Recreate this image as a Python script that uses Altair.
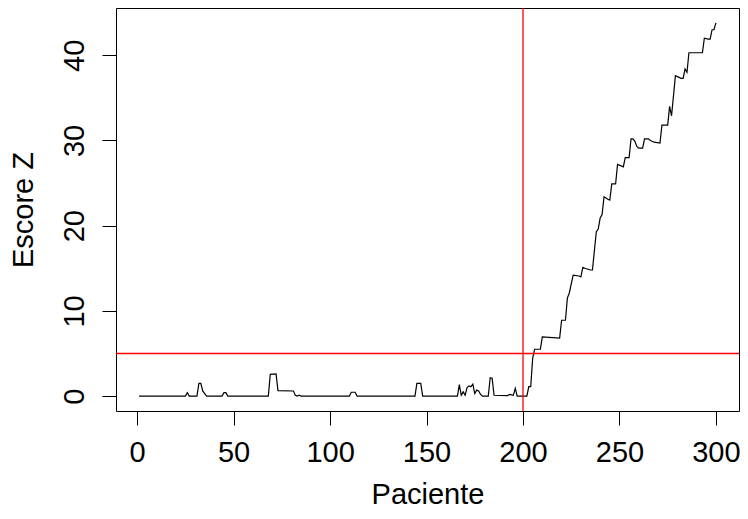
import altair as alt
import pandas as pd

# Vertices of the score line (patient, Z score)
paciente = [1, 25, 26, 27, 31, 32, 33, 34, 35, 36, 44, 45, 46, 47,
            68, 69, 72, 73, 81, 82, 83, 84, 85,
            110, 111, 113, 114, 144, 145, 147, 148,
            166, 167, 168, 169, 170, 171, 172, 173, 174, 175, 176, 177, 178, 179,
            182, 183, 184, 185, 192, 193, 194, 195, 196, 197,
            202, 203, 204, 205, 206, 209, 210, 219, 220, 222, 223, 224, 226,
            229, 230, 231, 232, 235, 236, 238, 239, 240, 241, 242, 244, 245, 246,
            248, 249, 252, 253, 255, 256, 257, 258, 259, 260, 262, 263, 265, 266,
            268, 271, 272, 275, 276, 277, 279, 280, 282, 283, 284, 285, 286,
            293, 294, 296, 297, 298, 299, 300]
escore = [0, 0, 0.4, 0, 0, 1.5, 1.5, 0.6, 0.3, 0, 0, 0.4, 0.4, 0,
          0, 2.55, 2.6, 0.65, 0.6, 0.1, 0, 0.1, 0,
          0, 0.45, 0.45, 0, 0, 1.5, 1.5, 0,
          0, 1.35, 0.1, 0.5, 0.1, 1.0, 1.2, 1.1, 1.4, 0.3, 0.7, 0.6, 0.2, 0,
          0, 2.15, 2.1, 0.1, 0.05, 0.2, 0.15, 0.1, 0.9, 0,
          0, 1.1, 1.1, 4.4, 5.5, 5.5, 6.95, 6.8, 8.9, 8.9, 11.5, 12.1, 14.2,
          14.1, 14.0, 15.1, 15.0, 14.8, 14.8, 19.3, 19.6, 20.9, 21.3, 23.4, 23.1, 23.0, 24.9,
          24.9, 27.2, 26.9, 28.0, 28.0, 30.2, 30.2, 29.9, 29.3, 29.1, 29.1, 30.2, 30.2, 30.0,
          29.8, 29.7, 31.8, 31.8, 34.0, 32.9, 37.6, 37.5, 37.3, 37.3, 38.4, 38.0, 40.3,
          40.3, 42.0, 41.9, 41.9, 43.0, 43.0, 43.8]

x_ticks = [0, 50, 100, 150, 200, 250, 300]
y_ticks = [0, 10, 20, 30, 40]
limite_paciente = [200]
limite_escore = [5]

df = pd.DataFrame({"Paciente": paciente, "Escore": escore})

FONT = "Liberation Sans"
xscale = alt.Scale(domain=[-10.96, 311.96], nice=False, zero=False)
yscale = alt.Scale(domain=[-1.75, 45.55], nice=False, zero=False)

xaxis = alt.Axis(values=x_ticks, title="Paciente", grid=False, domain=False,
                 tickSize=14, tickColor="black", tickWidth=1,
                 labelFont=FONT, labelFontSize=29, labelColor="black",
                 labelPadding=13, labelFlush=False, labelOverlap=False,
                 titleFont=FONT, titleFontSize=29, titleFontWeight="normal",
                 titleColor="black", titleX=311.5, titleY=92,
                 titleAlign="center", titleBaseline="alphabetic")
yaxis = alt.Axis(values=y_ticks, title="Escore Z", grid=False, domain=False,
                 tickSize=14, tickColor="black", tickWidth=1,
                 labelFont=FONT, labelFontSize=29, labelColor="black",
                 labelAngle=270, labelAlign="center", labelBaseline="bottom",
                 labelPadding=13, labelFlush=False, labelOverlap=False,
                 titleFont=FONT, titleFontSize=29, titleFontWeight="normal",
                 titleColor="black", titleAngle=270, titleX=-84, titleY=201.5,
                 titleAlign="center", titleBaseline="alphabetic")

line = alt.Chart(df).mark_line(color="black", strokeWidth=1.2, clip=True).encode(
    x=alt.X("Paciente:Q", scale=xscale, axis=xaxis),
    y=alt.Y("Escore:Q", scale=yscale, axis=yaxis),
)

vline = alt.Chart(pd.DataFrame({"Paciente": limite_paciente})).mark_rule(
    color="#FF0000", strokeWidth=1.3).encode(x=alt.X("Paciente:Q", scale=xscale))
hline = alt.Chart(pd.DataFrame({"Escore": limite_escore})).mark_rule(
    color="#FF0000", strokeWidth=1.3).encode(y=alt.Y("Escore:Q", scale=yscale))

chart = alt.layer(line, vline, hline).properties(
    width=623, height=403,
    autosize=alt.AutoSizeParams(type="none"),
    padding={"left": 108, "top": 0, "right": 1, "bottom": 100},
).configure(background="white").configure_view(stroke="black", strokeWidth=1, fill="white")

chart.save("out.html", embed_options={"renderer": "svg", "actions": False})
